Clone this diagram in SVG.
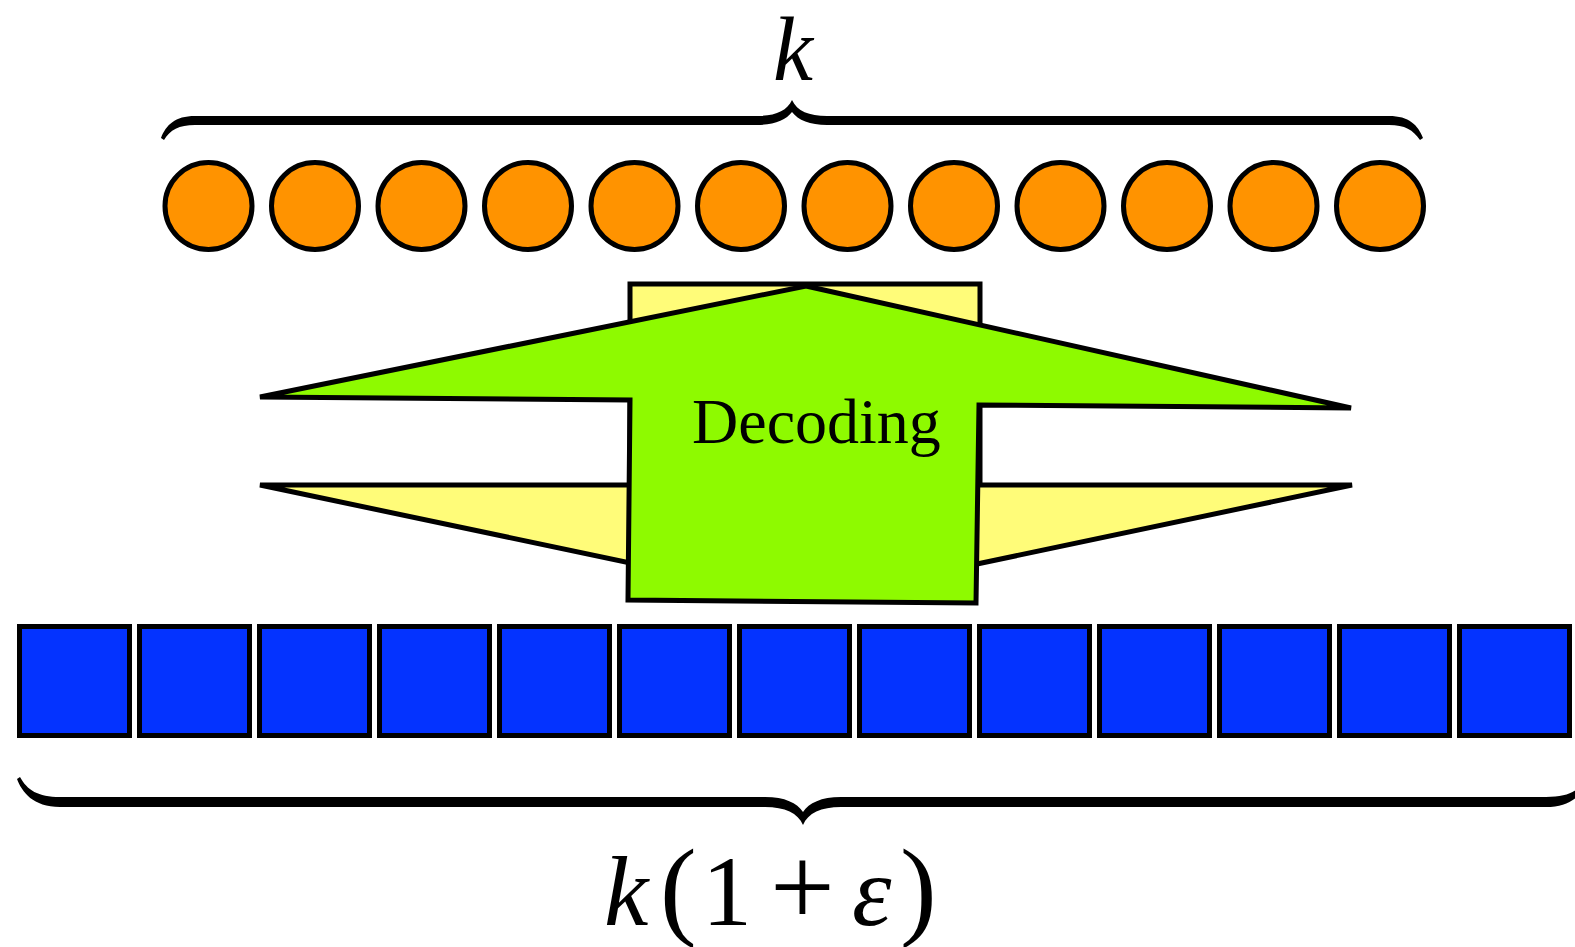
<svg xmlns="http://www.w3.org/2000/svg" width="1575" height="947" viewBox="0 0 1575 947">
<style>
.c{fill:#FF9300;stroke:#000;stroke-width:5}
.s{fill:#0433FF;stroke:#000;stroke-width:5}
.br{fill:#000}
.t{font-family:"Liberation Serif",serif;fill:#000}
</style>
<rect width="1575" height="947" fill="#fff"/>
<g id="top-brace"><path class="br" d="M161,138 C166,125 175,116 195,116 L757,116 C775,116 787,111 792,100 C797,111 809,116 827,116 L1389,116 C1409,116 1418,125 1423,138 L1420,140 C1413,130 1405,125 1389,125 L827,125 C810,125 798,120 792,112 C786,120 774,125 757,125 L195,125 C179,125 170,130 164,140 Z"/></g>
<g id="label-k"><text class="t" x="773" y="80" font-size="90" font-style="italic">k</text></g>
<g id="circles">
<circle class="c" cx="208.5" cy="206" r="43.5"/>
<circle class="c" cx="315" cy="206" r="43.5"/>
<circle class="c" cx="421.5" cy="206" r="43.5"/>
<circle class="c" cx="528" cy="206" r="43.5"/>
<circle class="c" cx="634.5" cy="206" r="43.5"/>
<circle class="c" cx="741" cy="206" r="43.5"/>
<circle class="c" cx="847.5" cy="206" r="43.5"/>
<circle class="c" cx="954" cy="206" r="43.5"/>
<circle class="c" cx="1060.5" cy="206" r="43.5"/>
<circle class="c" cx="1167" cy="206" r="43.5"/>
<circle class="c" cx="1273.5" cy="206" r="43.5"/>
<circle class="c" cx="1380" cy="206" r="43.5"/>
</g>
<g id="yellow-arrow"><polygon points="630,284 980,284 980,485 1352,485 806,600 260,485 630,485" fill="#FFFC79" stroke="#000" stroke-width="5" stroke-linejoin="miter"/></g>
<g id="green-arrow">
<polygon points="806,286 1351,408 979,405 976,603 628,600 630,400 260,397" fill="#8EFA00" stroke="#000" stroke-width="5" stroke-linejoin="miter"/>
<text class="t" x="692" y="443" font-size="64">Decoding</text>
</g>
<g id="squares">
<rect class="s" x="19.5" y="626.5" width="110" height="109"/>
<rect class="s" x="139.5" y="626.5" width="110" height="109"/>
<rect class="s" x="259.5" y="626.5" width="110" height="109"/>
<rect class="s" x="379.5" y="626.5" width="110" height="109"/>
<rect class="s" x="499.5" y="626.5" width="110" height="109"/>
<rect class="s" x="619.5" y="626.5" width="110" height="109"/>
<rect class="s" x="739.5" y="626.5" width="110" height="109"/>
<rect class="s" x="859.5" y="626.5" width="110" height="109"/>
<rect class="s" x="979.5" y="626.5" width="110" height="109"/>
<rect class="s" x="1099.5" y="626.5" width="110" height="109"/>
<rect class="s" x="1219.5" y="626.5" width="110" height="109"/>
<rect class="s" x="1339.5" y="626.5" width="110" height="109"/>
<rect class="s" x="1459.5" y="626.5" width="110" height="109"/>
</g>
<g id="bottom-brace"><path class="br" d="M17,779 C22,792 33,807 60,807 L765,807 C785,807 798,813 803,825 C808,813 821,807 841,807 L1546,807 C1573,807 1584,792 1589,779 L1586,777 C1580,790 1570,797 1546,797 L841,797 C821,797 809,803 803,812 C797,803 785,797 765,797 L60,797 C38,797 27,790 20,777 Z"/></g>
<g id="label-k1eps"><text class="t" y="925" font-size="100"><tspan x="604" font-style="italic">k</tspan><tspan x="660" font-size="110">(</tspan><tspan x="702">1</tspan><tspan x="770" font-size="115">+</tspan><tspan x="852" font-style="italic">ε</tspan><tspan x="900" font-size="110">)</tspan></text></g>
</svg>
